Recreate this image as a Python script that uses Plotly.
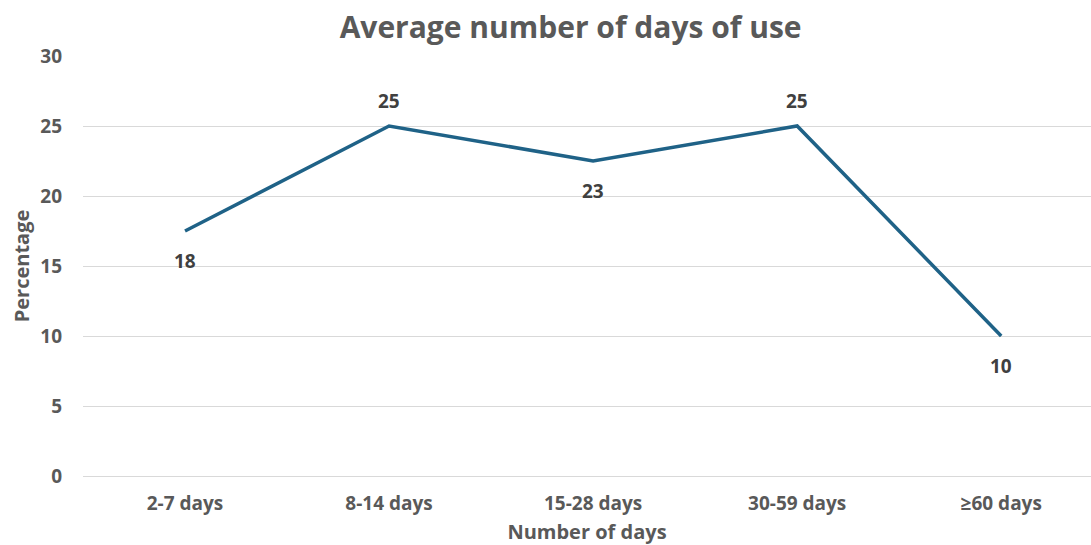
import plotly.graph_objects as go

categories = ["2-7 days", "8-14 days", "15-28 days", "30-59 days", "≥60 days"]
values = [17.5, 25, 22.5, 25, 10]
labels = ["18", "25", "23", "25", "10"]
y_ticks = [0, 5, 10, 15, 20, 25, 30]

FONT = "Open Sans, Liberation Sans, Arial, sans-serif"
label_above = [False, True, False, True, False]

fig = go.Figure(go.Scatter(
    x=list(range(len(categories))), y=values, mode="lines",
    line=dict(color="#1F6287", width=3.5),
    cliponaxis=False, hoverinfo="skip",
))

for i, (v, t) in enumerate(zip(values, labels)):
    fig.add_annotation(
        x=i, y=v, text=t, showarrow=False,
        yshift=25 if label_above[i] else -30,
        font=dict(family=FONT, size=19, color="#404040", weight="bold"),
    )

fig.update_layout(
    width=1091, height=545,
    margin=dict(l=83, r=0, t=56, b=69),
    paper_bgcolor="white", plot_bgcolor="white",
    showlegend=False,
    title=dict(text="Average number of days of use", x=0.523, xanchor="center",
               yref="container", y=0.95, yanchor="middle",
               font=dict(family=FONT, size=30, color="#595959", weight="bold")),
    font=dict(family=FONT, color="#595959"),
)
fig.update_xaxes(
    range=[-0.5, 4.44], tickmode="array",
    tickvals=list(range(len(categories))), ticktext=categories,
    showgrid=False, zeroline=False, showline=False, ticks="",
    ticklabelstandoff=14,
    tickfont=dict(family=FONT, size=19, color="#595959", weight="bold"),
    title=dict(text="Number of days", standoff=15,
               font=dict(family=FONT, size=20, color="#595959", weight="bold")),
)
fig.update_yaxes(
    range=[0, 30], tickvals=y_ticks,
    showgrid=True, gridcolor="#D9D9D9", gridwidth=1,
    zeroline=True, zerolinecolor="#D9D9D9", zerolinewidth=1,
    showline=False, ticks="", ticklabelstandoff=20,
    tickfont=dict(family=FONT, size=19, color="#595959", weight="bold"),
    title=dict(text="Percentage", standoff=5,
               font=dict(family=FONT, size=20, color="#595959", weight="bold")),
)

fig.write_html("out.html")
